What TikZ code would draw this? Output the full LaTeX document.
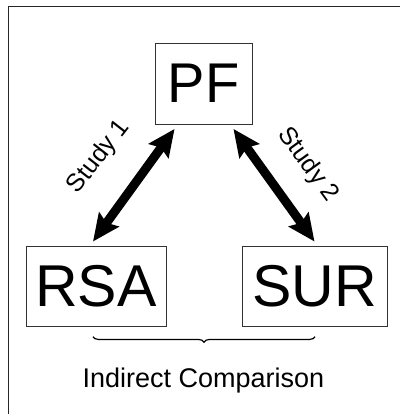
\documentclass[tikz,border=0pt]{standalone}
\usepackage{fontspec}
\setmainfont{Liberation Sans}
\usetikzlibrary{arrows.meta,calc,decorations.pathreplacing}
\tikzset{
  termbox/.style={draw=black!80, line width=0.9pt, inner sep=0pt, minimum height=80pt},
  bigarrow/.style={line width=9pt, {Stealth[length=27pt,width=24pt,inset=4pt]}-{Stealth[length=27pt,width=24pt,inset=4pt]}},
  studylabel/.style={font=\fontsize{25}{28}\selectfont, inner sep=0pt},
}
\begin{document}
\begin{tikzpicture}[x=1pt,y=1pt]
\useasboundingbox (0,0) rectangle (400,414);
\draw[black!85, line width=1pt] (8,0) coordinate (fa) -- (8,407.5) coordinate (fb) -- (400,407.5) coordinate (fc);
\node[termbox, minimum width=97pt, minimum height=81pt, font=\fontsize{56}{60}\selectfont] (PF) at (203.5,330.5) {PF};
\node[termbox, minimum width=140pt, font=\fontsize{59}{62}\selectfont] (RSA) at (96,128) {RSA};
\node[termbox, minimum width=145pt, font=\fontsize{59}{62}\selectfont] (SUR) at (314.5,128) {SUR};
\draw[bigarrow] ($(PF.south west)+(20,-4.5)$) -- ($(RSA.north)+(-3,4)$);
\draw[bigarrow] ($(PF.south east)+(-19,-4.5)$) -- ($(SUR.north)+(0,4)$);
\node[studylabel, rotate=52] (s1) at (99,257) {Study 1};
\node[studylabel, rotate=-54] (s2) at (308,249) {Study 2};
\coordinate (br) at (315,77.3);
\coordinate (bl) at (93,77.3);
\draw[line width=1.2pt, decorate, decoration={brace, amplitude=5.5pt}] (br) -- (bl);
\node[font=\fontsize{27}{30}\selectfont, inner sep=0pt] (ic) at (203.3,33) {Indirect Comparison};
\end{tikzpicture}
\end{document}
